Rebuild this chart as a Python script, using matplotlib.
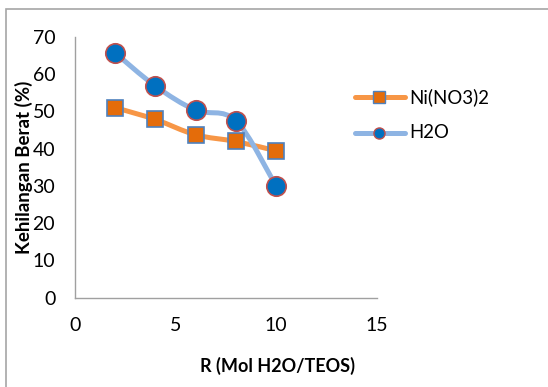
import numpy as np
import matplotlib
matplotlib.use('Agg')
import matplotlib.pyplot as plt
from matplotlib.path import Path
from matplotlib.patches import PathPatch, Rectangle
from matplotlib.lines import Line2D

# data
r_vals = [2, 4, 6, 8, 10]
ni_vals = [51.0, 47.8, 43.7, 41.9, 39.4]
h2o_vals = [65.7, 56.8, 50.3, 47.5, 30.0]
series_names = ['Ni(NO3)2', 'H2O']
x_ticks = [0, 5, 10, 15]
y_ticks = [0, 10, 20, 30, 40, 50, 60, 70]

W, H = 548, 387
fig = plt.figure(figsize=(W/100, H/100), dpi=100)
plt.rcParams['font.family'] = ['Lato', 'DejaVu Sans']

def px(x0, y0, x1, y1):
    return [x0/W, 1 - y1/H, (x1 - x0)/W, (y1 - y0)/H]

ax = fig.add_axes(px(74.7, 36.7, 376.7, 297.7))

def smooth_path(xs, ys):
    # Excel-like smoothed line: Catmull-Rom turned into cubic Bezier segments
    pts = np.column_stack([xs, ys]).astype(float)
    verts = [pts[0]]
    codes = [Path.MOVETO]
    n = len(pts)
    for i in range(n - 1):
        p0 = pts[i - 1] if i > 0 else pts[i]
        p1 = pts[i]
        p2 = pts[i + 1]
        p3 = pts[i + 2] if i + 2 < n else pts[i + 1]
        c1 = p1 + (p2 - p0) / 6.0
        c2 = p2 - (p3 - p1) / 6.0
        verts += [c1, c2, p2]
        codes += [Path.CURVE4] * 3
    return Path(verts, codes)

ni_line = '#F79646'
ni_face = '#E46C0A'
ni_edge = '#4F81BD'
h2o_line = '#8EB4E3'
h2o_face = '#0070C0'
h2o_edge = '#C0504D'

ax.add_patch(PathPatch(smooth_path(r_vals, ni_vals), fill=False, ec=ni_line,
                       lw=3.6, capstyle='round', joinstyle='round', zorder=2))
ax.add_patch(PathPatch(smooth_path(r_vals, h2o_vals), fill=False, ec=h2o_line,
                       lw=3.6, capstyle='round', joinstyle='round', zorder=2))
ax.plot(r_vals, ni_vals, ls='none', marker='s', ms=11.5, mfc=ni_face,
        mec=ni_edge, mew=1.2, zorder=3, clip_on=False)
ax.plot(r_vals, h2o_vals, ls='none', marker='o', ms=14, mfc=h2o_face,
        mec=h2o_edge, mew=1.2, zorder=4, clip_on=False)

ax.set_xlim(0, 15)
ax.set_ylim(0, 70)
ax.set_xticks(x_ticks)
ax.set_yticks(y_ticks)
ax.tick_params(length=0, labelsize=14, colors='black')
ax.tick_params(axis='y', pad=14)
ax.tick_params(axis='x', pad=14)
for s in ['top', 'right']:
    ax.spines[s].set_visible(False)
for s in ['left', 'bottom']:
    ax.spines[s].set_color('#A0A0A0')
    ax.spines[s].set_linewidth(1.0)

fig.text(24/W, 1 - 167/H, 'Kehilangan Berat (%)', rotation=90, ha='center',
         va='center', fontsize=13.5, fontweight='bold')
fig.text(277/W, 1 - 366/H, 'R (Mol H2O/TEOS)', ha='center', va='center',
         fontsize=13, fontweight='bold')

# legend
leg = [(97, ni_line, 's', 8, ni_face, ni_edge), (133, h2o_line, 'o', 8, h2o_face, h2o_edge)]
for (yy, lc, mk, ms, fc, ec), name in zip(leg, series_names):
    fy = 1 - yy/H
    fig.add_artist(Line2D([355/W, 405/W], [fy, fy], color=lc, lw=3.6,
                          solid_capstyle='round'))
    fig.add_artist(Line2D([379/W], [fy], marker=mk, ms=ms, mfc=fc, mec=ec,
                          mew=1.0, ls='none'))
    fig.text(409/W, fy, name, ha='left', va='center', fontsize=13.4)

# outer chart border
fig.add_artist(Rectangle((6/W, -0.1), 1.2, 1 - 9/H + 0.1, transform=fig.transFigure,
                         fill=False, ec='#A6A6A6', lw=1.2))

fig.savefig('out.png', dpi=100)
